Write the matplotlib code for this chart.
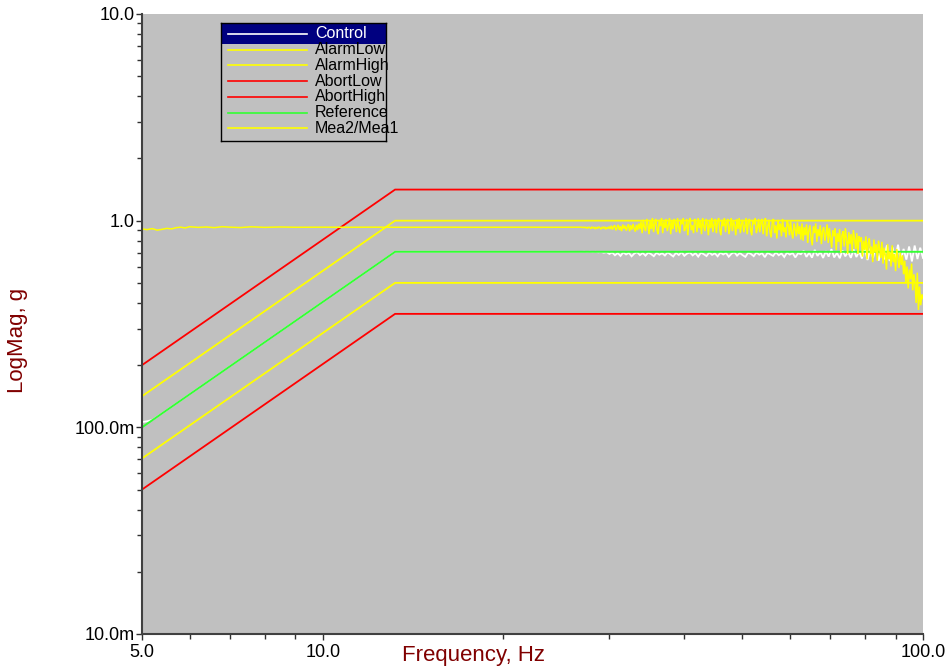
import numpy as np
import matplotlib
matplotlib.use("Agg")
import matplotlib.pyplot as plt
from matplotlib.ticker import FixedLocator, FixedFormatter, LogLocator, NullFormatter
from matplotlib.patches import Rectangle

plt.rcParams['font.family'] = ['Liberation Sans', 'DejaVu Sans']

# ---------------- data ----------------
series_names = ["Control", "AlarmLow", "AlarmHigh", "AbortLow", "AbortHigh", "Reference", "Mea2/Mea1"]
series_colors = ["#FFFFFF", "#FFFF00", "#FFFF00", "#FF0000", "#FF0000", "#33FF33", "#FFFF00"]

profile_freq = [5.0, 13.2, 100.0]
reference = [0.1, 0.707, 0.707]
alarm_low = [0.0707, 0.5, 0.5]
alarm_high = [0.1414, 1.0, 1.0]
abort_low = [0.05, 0.354, 0.354]
abort_high = [0.2, 1.414, 1.414]

# Mea2/Mea1 : low-frequency part
mea_low_freq = [5.0, 5.1, 5.2, 5.3, 5.4, 5.5, 5.6, 5.7, 5.8, 5.9, 6.0, 6.2, 6.4, 6.6, 6.8,
                7.0, 7.3, 7.6, 8.0, 8.5, 9.0, 10.0, 11.0, 12.0, 14.0, 16.0, 18.0, 20.0,
                22.0, 24.0, 26.0]
mea_low_vals = [0.912, 0.905, 0.915, 0.900, 0.908, 0.918, 0.912, 0.925, 0.930, 0.922,
                0.935, 0.928, 0.932, 0.925, 0.935, 0.930, 0.926, 0.934, 0.928, 0.932,
                0.929, 0.930, 0.929, 0.930, 0.929, 0.930, 0.929, 0.930, 0.930, 0.929, 0.930]
# Mea2/Mea1 : high-frequency noisy part (27 .. 100 Hz)
mea_high_vals = [
    # 27-30 Hz
    0.930, 0.926, 0.931, 0.924, 0.929, 0.920, 0.930, 0.927, 0.915, 0.931, 0.922, 0.928, 0.912,
    0.930, 0.919, 0.932, 0.925, 0.910, 0.929, 0.921, 0.934, 0.908, 0.928, 0.917, 0.936, 0.912,
    # 30-34 Hz
    0.945, 0.905, 0.938, 0.950, 0.898, 0.925, 0.955, 0.902, 0.940, 0.890, 0.958, 0.915, 0.946,
    0.895, 0.930, 0.962, 0.888, 0.950, 0.905, 0.965, 0.920, 0.885, 0.955, 0.900, 0.968, 0.910,
    # 34-43 Hz
    0.99, 0.87, 1.01, 0.93, 0.89, 1.02, 0.96, 0.86, 1.00, 0.91, 1.03, 0.88, 0.97, 1.02, 0.90,
    0.86, 1.01, 0.94, 1.03, 0.87, 0.99, 0.92, 1.02, 0.89, 0.95, 1.03, 0.86, 1.00, 0.91, 1.02,
    0.97, 0.88, 1.03, 0.93, 0.87, 1.01, 0.96, 1.03, 0.89, 0.92, 1.02, 0.85, 0.99, 1.03, 0.90,
    0.95, 0.87, 1.02, 0.98, 0.88, 1.03, 0.92, 1.00,
    # 43-54 Hz
    0.86, 1.03, 0.94, 0.89, 1.02, 0.97, 0.85, 1.01, 0.92, 1.03, 0.88, 0.96, 1.02, 0.87, 0.99,
    1.03, 0.90, 0.85, 1.01, 0.94, 1.03, 0.88, 0.98, 1.02, 0.86, 0.93, 1.03, 0.89, 1.00, 0.95,
    0.85, 1.02, 0.91, 1.03, 0.87, 0.97, 1.01, 0.88, 0.94, 1.03, 0.86, 0.99, 1.02, 0.90, 0.85,
    1.01, 0.96, 1.03, 0.87, 0.92, 1.02, 0.88, 0.98,
    # 54-63 Hz
    1.02, 0.86, 0.97, 1.03, 0.84, 0.93, 1.01, 0.88, 0.83, 0.99, 1.02, 0.87, 0.95, 0.82, 1.01,
    0.90, 0.97, 0.84, 1.02, 0.88, 0.93, 0.83, 1.00, 0.96, 0.85, 0.99, 0.87, 0.82, 0.97, 0.91,
    0.84, 0.98, 0.86, 0.94, 0.81,
    # 63-70 Hz
    0.97, 0.80, 0.93, 0.85, 0.96, 0.78, 0.90, 0.95, 0.82, 0.76, 0.94, 0.87, 0.97, 0.79, 0.91,
    0.84, 0.95, 0.77, 0.89, 0.93, 0.80, 0.86, 0.96, 0.78, 0.92, 0.83,
    # 70-79 Hz
    0.74, 0.90, 0.84, 0.92, 0.72, 0.87, 0.79, 0.91, 0.70, 0.85, 0.89, 0.75, 0.92, 0.81, 0.69,
    0.88, 0.77, 0.86, 0.71, 0.90, 0.82, 0.73, 0.87, 0.69, 0.84, 0.79,
    # 79-88 Hz
    0.83, 0.67, 0.80, 0.72, 0.84, 0.65, 0.78, 0.82, 0.69, 0.75, 0.63, 0.81, 0.70, 0.77, 0.64,
    0.80, 0.73, 0.66,
    # 88-95 Hz
    0.79, 0.62, 0.74, 0.68, 0.58, 0.77, 0.65, 0.71, 0.60, 0.76, 0.63, 0.69, 0.57, 0.73, 0.66,
    0.59, 0.70, 0.61,
    # 95-100 Hz
    0.68, 0.55, 0.64, 0.50, 0.60, 0.47, 0.58, 0.52, 0.62, 0.46, 0.55,
    0.50, 0.40, 0.56, 0.37, 0.48, 0.39, 0.44, 0.42]
mea_high_freq = np.geomspace(27.0, 100.0, len(mea_high_vals))

# Control : low-frequency part
ctrl_low_freq = [5.0, 5.1, 5.2, 5.4, 5.6, 5.8, 6.0, 6.5, 7.0, 8.0, 9.0, 10.0, 11.0, 12.0,
                 13.2, 16.0, 20.0, 25.0]
ctrl_low_vals = [0.106, 0.107, 0.1085, 0.1168, 0.1257, 0.1348, 0.1444, 0.1697, 0.1971,
                 0.2579, 0.3266, 0.4039, 0.4894, 0.5830, 0.707, 0.707, 0.707, 0.707]
# Control : high-frequency noisy part (27 .. 100 Hz)
ctrl_high_vals = [
    0.706, 0.707, 0.705, 0.707, 0.704, 0.707, 0.703, 0.706, 0.700, 0.705,
    0.690, 0.702, 0.680, 0.697, 0.675, 0.703, 0.686, 0.699, 0.672, 0.694,
    0.704, 0.681, 0.698, 0.677, 0.701, 0.689, 0.673, 0.700, 0.684, 0.696,
    0.678, 0.703, 0.687, 0.671, 0.699, 0.682, 0.705, 0.676, 0.693, 0.702,
    0.679, 0.697, 0.670, 0.700, 0.688, 0.674, 0.703, 0.683, 0.695, 0.672,
    0.701, 0.686, 0.699, 0.669, 0.692, 0.704, 0.677, 0.698, 0.681, 0.668,
    0.700, 0.690, 0.673, 0.702, 0.684, 0.697, 0.666, 0.699, 0.687, 0.675,
    0.703, 0.680, 0.694, 0.667, 0.701, 0.685, 0.698, 0.664, 0.696, 0.688,
    0.715, 0.668, 0.700, 0.662, 0.722, 0.675, 0.705, 0.660, 0.712, 0.670, 0.728,
    0.664, 0.698, 0.658, 0.718, 0.672, 0.706, 0.661, 0.725, 0.667, 0.710, 0.656,
    0.745, 0.645, 0.735, 0.660, 0.755, 0.640, 0.720, 0.650, 0.760, 0.638, 0.742,
    0.655, 0.765, 0.642, 0.730, 0.648, 0.750, 0.635, 0.758, 0.652, 0.740, 0.660]
ctrl_high_freq = np.geomspace(27.0, 100.0, len(ctrl_high_vals))

x_ticks = [5.0, 10.0, 100.0]
x_tick_labels = ["5.0", "10.0", "100.0"]
y_ticks = [0.01, 0.1, 1.0, 10.0]
y_tick_labels = ["10.0m", "100.0m", "1.0", "10.0"]
x_label = "Frequency, Hz"
y_label = "LogMag, g"

# ---------------- figure ----------------
W, H = 949, 670
fig = plt.figure(figsize=(W / 100, H / 100), dpi=100)
fig.patch.set_facecolor("white")
L, R, T, B = 142, 923, 14, 634
ax = fig.add_axes([L / W, 1 - B / H, (R - L) / W, (B - T) / H])
ax.set_facecolor("#C0C0C0")

ctrl_f = np.concatenate([ctrl_low_freq, ctrl_high_freq])
ctrl_v = np.concatenate([ctrl_low_vals, ctrl_high_vals])
mea_f = np.concatenate([mea_low_freq, mea_high_freq])
mea_v = np.concatenate([mea_low_vals, mea_high_vals])

plot_data = [
    (ctrl_f, ctrl_v),
    (profile_freq, alarm_low),
    (profile_freq, alarm_high),
    (profile_freq, abort_low),
    (profile_freq, abort_high),
    (profile_freq, reference),
    (mea_f, mea_v),
]
widths = [1.3, 1.3, 1.3, 1.3, 1.3, 1.4, 1.1]
for (fx, fy), c, lw, name in zip(plot_data, series_colors, widths, series_names):
    ax.plot(fx, fy, color=c, lw=lw, label=name, solid_joinstyle="miter")

ax.set_xscale("log")
ax.set_yscale("log")
ax.set_xlim(5.0, 100.0)
ax.set_ylim(0.01, 10.0)

ax.xaxis.set_major_locator(FixedLocator(x_ticks))
ax.xaxis.set_major_formatter(FixedFormatter(x_tick_labels))
ax.xaxis.set_minor_locator(LogLocator(base=10, subs=np.arange(2, 10)))
ax.xaxis.set_minor_formatter(NullFormatter())
ax.yaxis.set_major_locator(FixedLocator(y_ticks))
ax.yaxis.set_major_formatter(FixedFormatter(y_tick_labels))
ax.yaxis.set_minor_locator(LogLocator(base=10, subs=np.arange(2, 10)))
ax.yaxis.set_minor_formatter(NullFormatter())

ax.tick_params(axis="both", which="major", direction="out", length=4, width=1,
               color="#303030", labelsize=13, labelcolor="black")
ax.tick_params(axis="both", which="minor", direction="out", length=3.5, width=1,
               color="#303030")
ax.tick_params(axis="x", which="major", pad=3)
ax.tick_params(axis="y", which="major", pad=1)

for s in ["top", "right"]:
    ax.spines[s].set_visible(False)
for s in ["left", "bottom"]:
    ax.spines[s].set_color("#404040")
    ax.spines[s].set_linewidth(1.5)

fig.text(474 / W, 1 - 655 / H, x_label, color="#800000", fontsize=16,
         ha="center", va="center")
fig.text(18 / W, 1 - 340 / H, y_label, color="#800000", fontsize=16,
         ha="center", va="center", rotation=90)

# ---------------- legend (drawn as a small panel) ----------------
LL, LT, LW, LH = 221, 23, 165, 118
lax = fig.add_axes([LL / W, 1 - (LT + LH) / H, LW / W, LH / H])
lax.set_facecolor("#C0C0C0")
lax.set_xlim(0, LW)
lax.set_ylim(LH, 0)
lax.set_xticks([])
lax.set_yticks([])
for s in lax.spines.values():
    s.set_color("black")
    s.set_linewidth(1.0)
lax.add_patch(Rectangle((0, 0), LW, 21, facecolor="#000080", edgecolor="none", zorder=1))
for i, (name, c) in enumerate(zip(series_names, series_colors)):
    yc = 11 + 15.7 * i
    lax.plot([7, 86], [yc, yc], color=c, lw=1.2, zorder=2)
    lax.text(94, yc, name, fontsize=11.5, va="center", ha="left",
             color="white" if i == 0 else "black", zorder=3, clip_on=False)

fig.savefig("out.png", dpi=100, facecolor="white")
